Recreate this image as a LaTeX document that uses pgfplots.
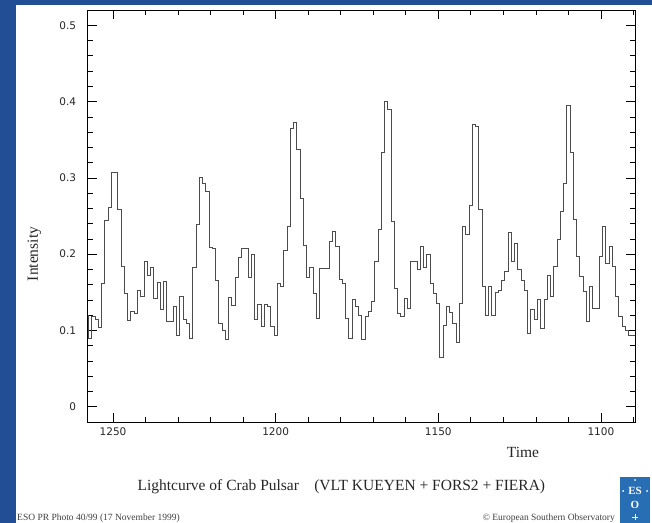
\documentclass[border=0pt]{standalone}
\usepackage{pgfplots}
\pgfplotsset{compat=1.18}
\usepackage{fontspec}
\setmainfont{Liberation Serif}
\newfontfamily\tickfont{DejaVu Sans}
\definecolor{bgblue}{RGB}{34,78,150}
\definecolor{esoblue}{RGB}{40,110,180}
\pgfplotstableread{
T V
1258.5 0.120
1257.5 0.090
1256.5 0.118
1255.5 0.115
1254.5 0.104
1253.5 0.162
1252.5 0.244
1251.5 0.261
1250.5 0.307
1249.5 0.307
1248.5 0.258
1247.5 0.184
1246.5 0.148
1245.5 0.113
1244.5 0.125
1243.5 0.122
1242.5 0.153
1241.5 0.144
1240.5 0.190
1239.5 0.172
1238.5 0.182
1237.5 0.142
1236.5 0.163
1235.5 0.127
1234.5 0.164
1233.5 0.112
1232.5 0.112
1231.5 0.131
1230.5 0.094
1229.5 0.144
1228.5 0.115
1227.5 0.109
1226.5 0.090
1225.5 0.182
1224.5 0.239
1223.5 0.300
1222.5 0.293
1221.5 0.282
1220.5 0.209
1219.5 0.208
1218.5 0.166
1217.5 0.109
1216.5 0.100
1215.5 0.088
1214.5 0.143
1213.5 0.133
1212.5 0.170
1211.5 0.196
1210.5 0.208
1209.5 0.207
1208.5 0.170
1207.5 0.200
1206.5 0.114
1205.5 0.134
1204.5 0.105
1203.5 0.134
1202.5 0.132
1201.5 0.105
1200.5 0.094
1199.5 0.162
1198.5 0.158
1197.5 0.205
1196.5 0.236
1195.5 0.365
1194.5 0.372
1193.5 0.337
1192.5 0.273
1191.5 0.211
1190.5 0.170
1189.5 0.182
1188.5 0.149
1187.5 0.116
1186.5 0.181
1185.5 0.181
1184.5 0.181
1183.5 0.216
1182.5 0.230
1181.5 0.210
1180.5 0.167
1179.5 0.162
1178.5 0.116
1177.5 0.090
1176.5 0.140
1175.5 0.131
1174.5 0.120
1173.5 0.088
1172.5 0.118
1171.5 0.125
1170.5 0.138
1169.5 0.190
1168.5 0.232
1167.5 0.333
1166.5 0.400
1165.5 0.390
1164.5 0.243
1163.5 0.155
1162.5 0.122
1161.5 0.118
1160.5 0.142
1159.5 0.129
1158.5 0.190
1157.5 0.190
1156.5 0.180
1155.5 0.210
1154.5 0.182
1153.5 0.200
1152.5 0.162
1151.5 0.149
1150.5 0.136
1149.5 0.065
1148.5 0.107
1147.5 0.131
1146.5 0.123
1145.5 0.109
1144.5 0.084
1143.5 0.136
1142.5 0.236
1141.5 0.226
1140.5 0.264
1139.5 0.370
1138.5 0.368
1137.5 0.259
1136.5 0.158
1135.5 0.120
1134.5 0.158
1133.5 0.120
1132.5 0.150
1131.5 0.153
1130.5 0.166
1129.5 0.177
1128.5 0.228
1127.5 0.190
1126.5 0.214
1125.5 0.180
1124.5 0.165
1123.5 0.153
1122.5 0.096
1121.5 0.127
1120.5 0.114
1119.5 0.140
1118.5 0.103
1117.5 0.140
1116.5 0.172
1115.5 0.144
1114.5 0.184
1113.5 0.219
1112.5 0.256
1111.5 0.293
1110.5 0.395
1109.5 0.333
1108.5 0.245
1107.5 0.197
1106.5 0.171
1105.5 0.151
1104.5 0.112
1103.5 0.158
1102.5 0.129
1101.5 0.129
1100.5 0.197
1099.5 0.236
1098.5 0.188
1097.5 0.210
1096.5 0.184
1095.5 0.144
1094.5 0.118
1093.5 0.105
1092.5 0.100
1091.5 0.094
1090.5 0.094
1089.5 0.130
1088.5 0.130
}\lightcurve
\begin{document}
\begin{tikzpicture}[x=1bp,y=1bp]
\fill[bgblue] (0,0) rectangle (652,523);
\fill[white] (16,0) rectangle (652,518);
\begin{axis}[
  at={(87.7bp,101bp)}, anchor=south west, scale only axis,
  width=547.3bp, height=412bp,
  x dir=reverse, xmin=1089.5, xmax=1257.8, ymin=-0.02, ymax=0.52,
  xtick={1250,1200,1150,1100},
  minor xtick={1090,1100,...,1250},
  ytick={0,0.1,0.2,0.3,0.4,0.5},
  minor y tick num=4,
  major tick length=9bp, minor tick length=5bp,
  tick style={black, line width=0.6bp},
  axis line style={black, line width=0.8bp},
  ticklabel style={font=\tickfont\fontsize{10.5bp}{12bp}\selectfont, text=black!85},
  xticklabel style={/pgf/number format/1000 sep={}, yshift=-2bp},
  yticklabel style={/pgf/number format/fixed, /pgf/number format/precision=1, xshift=-8bp},
  /pgf/number format/assume math mode=true,
]
\addplot[const plot, color=black!70, line width=0.9bp] table[x=T, y=V] {\lightcurve};
\end{axis}
\node[rotate=90, font=\fontsize{15.5bp}{18bp}\selectfont, text=black!85] at (34.5,269) {Intensity};
\node[font=\fontsize{15.5bp}{18bp}\selectfont, text=black!85] at (523,71) {Time};
\node[font=\fontsize{15.5bp}{18bp}\selectfont, text=black!85] at (218.3,36) {Lightcurve of Crab Pulsar};
\node[font=\fontsize{15.5bp}{18bp}\selectfont, text=black!85] at (429.7,36) {(VLT KUEYEN + FORS2 + FIERA)};
\node[anchor=west, font=\fontsize{9.5bp}{11bp}\selectfont, text=black!75, inner sep=0] at (17,5) {ESO PR Photo 40/99 (17 November 1999)};
\node[anchor=east, font=\fontsize{9.5bp}{11bp}\selectfont, text=black!75, inner sep=0] at (615,5) {© European Southern Observatory};
\fill[esoblue] (620,0) rectangle (650,46);
\node[white, font=\fontsize{11bp}{12bp}\selectfont\bfseries, inner sep=0] at (635,32) {ES};
\node[white, font=\fontsize{11bp}{12bp}\selectfont\bfseries, inner sep=0] at (635,18) {O};
\fill[white] (635,43) circle (1);
\fill[white] (623,32) circle (1);
\fill[white] (647,32) circle (1);
\draw[white, line width=0.8] (632,6) -- (638,6) (635,3) -- (635,9);
\end{tikzpicture}
\end{document}
